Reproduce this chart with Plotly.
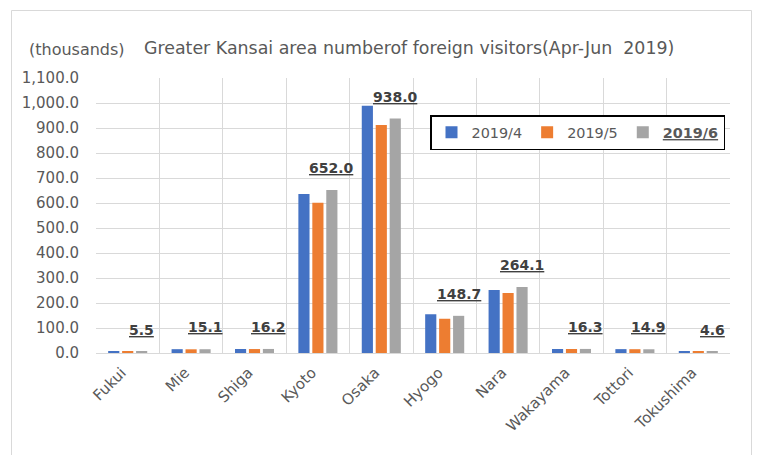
import plotly.graph_objects as go

categories = ["Fukui", "Mie", "Shiga", "Kyoto", "Osaka", "Hyogo", "Nara", "Wakayama", "Tottori", "Tokushima"]
apr_2019 = [5.2, 15.3, 16.0, 636.0, 989.0, 155.0, 252.0, 16.0, 15.5, 4.8]
may_2019 = [5.0, 14.8, 15.8, 601.0, 912.0, 137.0, 240.0, 16.0, 15.2, 4.5]
jun_2019 = [5.5, 15.1, 16.2, 652.0, 938.0, 148.7, 264.1, 16.3, 14.9, 4.6]
series_names = ["2019/4", "2019/5", "<b><u>2019/6</u></b>"]
colors = ["#4472C4", "#ED7D31", "#A5A5A5"]
y_ticks = list(range(0, 1101, 100))

FONT = "DejaVu Sans"
W, H = 757, 455
L, R, T, B = 96, 27, 78, 102
pw, ph = W - L - R, H - T - B

fig = go.Figure()
for name, vals, c in zip(series_names, [apr_2019, may_2019, jun_2019], colors):
    fig.add_trace(go.Bar(x=categories, y=vals, name=name, marker=dict(color=c, line=dict(width=0))))

# data labels on the June series
for cat, v in zip(categories, jun_2019):
    fig.add_annotation(x=cat, y=v, text=f"<b><u>{v:.1f}</u></b>", showarrow=False,
                       xshift=14, yshift=22, font=dict(family=FONT, size=14, color="#404040"))

def px(xp):
    return (xp - L) / pw

def py(yp):
    return (H - B - yp) / ph

fig.add_annotation(xref="paper", yref="paper", x=px(27), y=py(49), xanchor="left", yanchor="middle",
                   text="(thousands)", showarrow=False, font=dict(family=FONT, size=16, color="#595959"))
fig.add_annotation(xref="paper", yref="paper", x=px(142), y=py(48), xanchor="left", yanchor="middle",
                   text="Greater Kansai area numberof foreign visitors(Apr-Jun  2019)", showarrow=False,
                   font=dict(family=FONT, size=17.4, color="#595959"))

fig.add_shape(type="rect", xref="paper", yref="paper", x0=px(11.5), x1=px(751.5), y0=py(470), y1=py(10.5),
              line=dict(color="#d9d9d9", width=1), fillcolor="rgba(0,0,0,0)", layer="below")

fig.update_layout(
    width=W, height=H,
    margin=dict(l=L, r=R, t=T, b=B, autoexpand=False),
    paper_bgcolor="white", plot_bgcolor="white",
    barmode="group", bargap=0.34, bargroupgap=0.2,
    font=dict(family=FONT, size=15, color="#595959"),
    showlegend=True,
    legend=dict(orientation="h", x=px(430), y=py(115), xanchor="left", yanchor="top",
                bgcolor="white", bordercolor="black", borderwidth=1.5,
                font=dict(family=FONT, size=14.4, color="#595959"),
                itemsizing="constant", tracegroupgap=0),
    xaxis=dict(tickangle=-45, tickson="boundaries", showgrid=True, gridcolor="#d9d9d9",
               ticks="", showline=True, linecolor="#d9d9d9", ticklabelshift=-6, ticklabelstandoff=4,
               tickfont=dict(family=FONT, size=15, color="#595959")),
    yaxis=dict(range=[0, 1100], tickvals=y_ticks, tickformat=",.1f", showgrid=True, gridcolor="#d9d9d9",
               zeroline=False, ticks="", ticklabelstandoff=16,
               tickfont=dict(family=FONT, size=15, color="#595959")),
)

fig.write_html("out.html", config={"displayModeBar": False},
               post_script="document.body.style.margin='0';document.body.style.padding='0';")
